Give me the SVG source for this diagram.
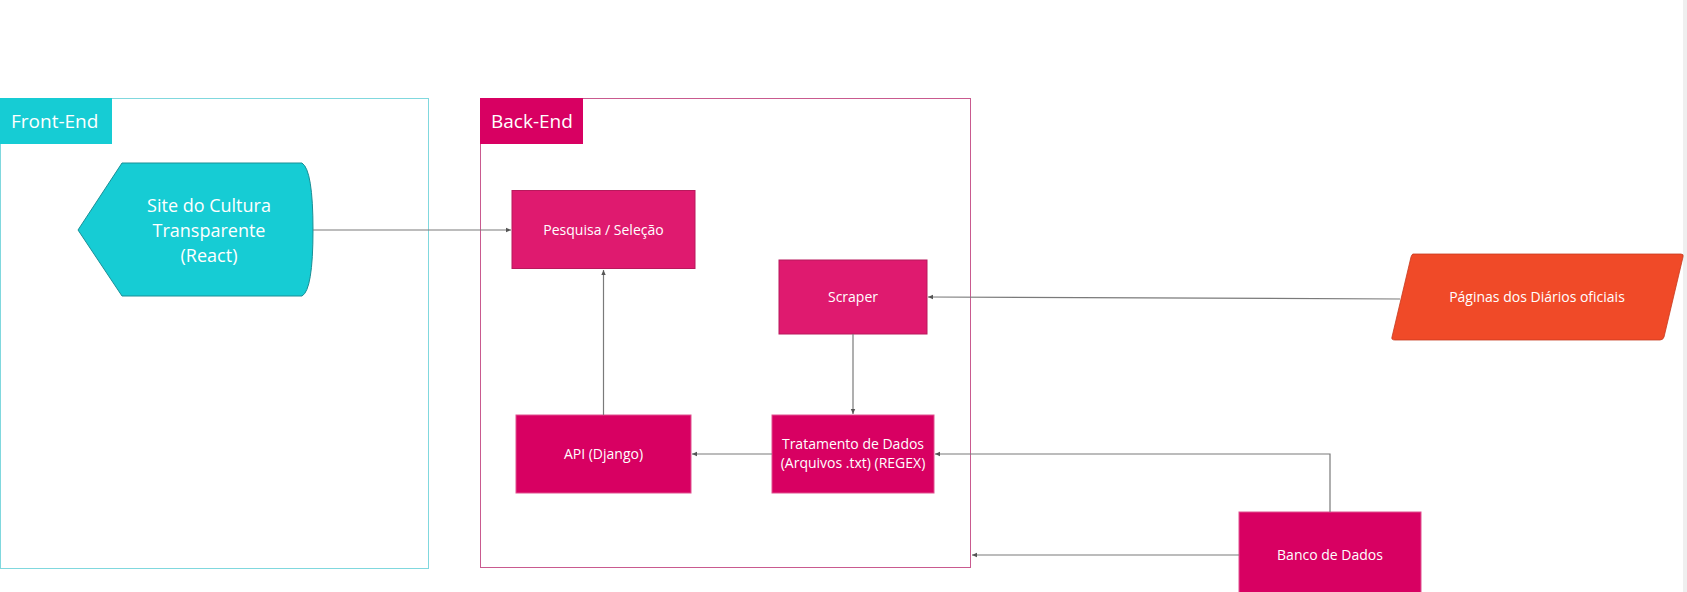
<svg xmlns="http://www.w3.org/2000/svg" width="1687" height="592" viewBox="0 0 1687 592">
<style>
  text { font-family: "Open Sans", "Noto Sans", "Liberation Sans", sans-serif; fill: #ffffff; }
  .lbl { font-size: 19px; }
  .node { font-size: 14px; text-anchor: middle; }
  .big { font-size: 18px; text-anchor: middle; }
  .conn { fill: none; stroke: #7a7a7a; stroke-width: 1.2; marker-end: url(#arr); }
  .mag { fill: #d80062; stroke: #e0508f; stroke-width: 1; }
  .mag2 { fill: #df1a6f; stroke: #b8195c; stroke-width: 1; }
</style>
<defs>
  <marker id="arr" markerWidth="6" markerHeight="6" refX="5" refY="3" orient="auto" markerUnits="userSpaceOnUse">
    <path d="M0,0.8 L5,3 L0,5.2 Z" fill="#555555"/>
  </marker>
</defs>
<rect x="0" y="0" width="1687" height="592" fill="#ffffff"/>
<rect x="1683" y="0" width="4" height="592" fill="#efefef"/>

<g id="front-end">
  <rect x="0.5" y="98.5" width="428" height="470" fill="none" stroke="#80d8de" stroke-width="1"/>
  <rect x="0" y="98" width="112" height="46" fill="#16ccd4"/>
  <text class="lbl" x="11" y="128">Front-End</text>
</g>

<g id="back-end">
  <rect x="480.5" y="98.5" width="490" height="469" fill="none" stroke="#c95a8f" stroke-width="1"/>
  <rect x="480" y="98" width="103" height="46" fill="#d80062"/>
  <text class="lbl" x="491" y="128">Back-End</text>
</g>

<g id="site">
  <path d="M78,230 L122,163 L302,163 Q313,170 313,230 Q313,290 302,296 L122,296 Z" fill="#16ccd4" stroke="#1a8f96" stroke-width="1"/>
  <text class="big" x="209" y="212">Site do Cultura</text>
  <text class="big" x="209" y="237">Transparente</text>
  <text class="big" x="209" y="262">(React)</text>
</g>

<g id="pesquisa">
  <rect class="mag2" x="512" y="190.5" width="183" height="78"/>
  <text class="node" x="603.5" y="234.5">Pesquisa / Seleção</text>
</g>

<g id="scraper">
  <rect class="mag2" x="779" y="260" width="148" height="74"/>
  <text class="node" x="853" y="302">Scraper</text>
</g>

<g id="api">
  <rect class="mag" x="516" y="415" width="175" height="78"/>
  <text class="node" x="603.5" y="459">API (Django)</text>
</g>

<g id="tratamento">
  <rect class="mag" x="772" y="415" width="162" height="78"/>
  <text class="node" x="853" y="449">Tratamento de Dados</text>
  <text class="node" x="853" y="468">(Arquivos .txt) (REGEX)</text>
</g>

<g id="paginas">
  <path d="M1413,254 L1681,254 Q1684,254 1683,257 L1664,337 Q1663,340 1660,340 L1395,340 Q1391,340 1392,337 L1411,257 Q1412,254 1413,254 Z" fill="#f04a28" stroke="#c73a1e" stroke-width="0.8"/>
  <text class="node" x="1537" y="302">Páginas dos Diários oficiais</text>
</g>

<g id="banco">
  <rect class="mag" x="1239" y="512" width="182" height="90" stroke="#a0a0a0"/>
  <text class="node" x="1330" y="560">Banco de Dados</text>
</g>

<g id="connectors">
  <path class="conn" d="M313,230 L511,230"/>
  <path class="conn" d="M603.5,415 L603.5,270"/>
  <path class="conn" d="M1400,299 L928,297"/>
  <path class="conn" d="M853,334 L853,414"/>
  <path class="conn" d="M772,454 L692,454"/>
  <path class="conn" d="M1330,512 L1330,454 L935,454"/>
  <path class="conn" d="M1239,555 L972,555"/>
</g>
</svg>
